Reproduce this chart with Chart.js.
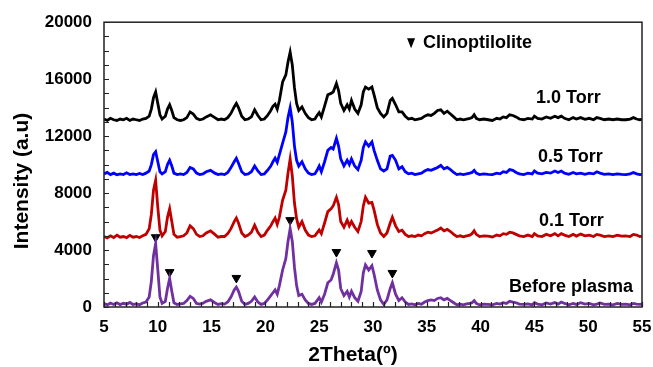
<!DOCTYPE html>
<html>
<head>
<meta charset="utf-8">
<script src="https://cdn.jsdelivr.net/npm/chart.js@4.4.1/dist/chart.umd.min.js"></script>
<style>
  html, body { margin: 0; padding: 0; background: #fff; }
  #wrap { width: 653px; height: 367px; }
</style>
</head>
<body>
<div id="wrap"><canvas id="xrd"></canvas></div>
<script>
// 2Theta grid (degrees), shared by all four patterns
const twoTheta = [
  5.0, 5.3, 5.6, 5.9, 6.2, 6.5, 6.8, 7.1, 7.4, 7.7,
  8.0, 8.3, 8.6, 8.9, 9.2, 9.4, 9.6, 9.8, 10.0, 10.2,
  10.4, 10.7, 10.9, 11.1, 11.3, 11.5, 11.8, 12.1, 12.4, 12.7,
  13.0, 13.3, 13.6, 13.9, 14.2, 14.5, 14.9, 15.3, 15.6, 15.9,
  16.2, 16.5, 16.8, 17.1, 17.3, 17.5, 17.8, 18.1, 18.4, 18.7,
  19.0, 19.3, 19.6, 19.9, 20.2, 20.5, 20.7, 20.9, 21.1, 21.3,
  21.6, 21.9, 22.1, 22.3, 22.5, 22.7, 22.9, 23.1, 23.4, 23.7,
  24.0, 24.3, 24.6, 24.8, 25.0, 25.2, 25.5, 25.8, 26.1, 26.3,
  26.6, 26.8, 27.0, 27.3, 27.6, 27.8, 28.0, 28.3, 28.6, 28.9,
  29.1, 29.3, 29.6, 29.9, 30.1, 30.4, 30.7, 31.0, 31.3, 31.6,
  31.8, 32.1, 32.4, 32.7, 33.0, 33.3, 33.6, 33.9, 34.2, 34.5,
  34.8, 35.1, 35.4, 35.7, 36.0, 36.3, 36.6, 36.9, 37.2, 37.5,
  37.8, 38.1, 38.4, 38.7, 39.0, 39.2, 39.4, 39.6, 39.9, 40.3,
  40.7, 41.1, 41.5, 41.8, 42.1, 42.4, 42.7, 43.0, 43.3, 43.6,
  44.0, 44.4, 44.8, 45.0, 45.3, 45.7, 46.1, 46.5, 46.9, 47.2,
  47.5, 47.8, 48.2, 48.6, 48.9, 49.3, 49.7, 50.1, 50.5, 50.8,
  51.1, 51.5, 51.9, 52.3, 52.7, 53.1, 53.5, 53.9, 54.2, 54.5,
  54.8, 55.0
];

const beforePlasma = [
  250, 150, 280, 180, 300, 170, 260, 200, 320, 180,
  220, 160, 280, 350, 700, 1800, 3600, 4450, 2600, 700,
  250, 400, 1300, 2000, 1100, 300, 180, 220, 250, 450,
  750, 600, 250, 200, 260, 400, 500, 300, 180, 230,
  200, 350, 700, 1200, 1400, 1100, 400, 180, 250, 400,
  700, 350, 180, 250, 500, 800, 1000, 1200, 900, 1500,
  2600, 3400, 4600, 5500, 4600, 2800, 1500, 800, 900, 500,
  250, 180, 250, 450, 650, 350, 900, 1700, 1900, 2300,
  3100, 2600, 1300, 800, 1100, 700, 1100, 650, 400, 1100,
  2400, 2950, 2600, 2900, 2300, 1200, 500, 180, 500, 1300,
  1700, 900, 450, 650, 350, 180, 220, 150, 250, 200,
  350, 450, 500, 450, 600, 650, 500, 600, 450, 300,
  150, 200, 150, 220, 250, 300, 450, 250, 150, 200,
  180, 150, 250, 200, 300, 250, 400, 350, 300, 200,
  180, 220, 150, 300, 200, 150, 280, 200, 320, 200,
  350, 250, 150, 250, 180, 300, 200, 250, 150, 200,
  280, 180, 200, 150, 250, 180, 200, 150, 250, 200,
  180, 200
];

const torr01 = [
  4950, 4850, 5000, 4880, 5050, 4900, 4950, 4870, 5030, 4900,
  4950, 4880, 5000, 5100, 5500, 6500, 8200, 8900, 7000, 5400,
  5000, 5300, 6300, 6900, 6000, 5100, 4900, 4950, 5000, 5200,
  5700, 5500, 5100, 4950, 5000, 5200, 5350, 5100, 4900, 4950,
  4950, 5150, 5500, 6000, 6250, 5900, 5200, 4950, 5050, 5250,
  5750, 5250, 4950, 5050, 5400, 5700, 6000, 6250, 5800, 6300,
  7500, 8200, 9400, 10400, 9200, 7300, 6200, 5600, 6000, 5400,
  5050, 4950, 5000, 5200, 5400, 5150, 5900, 6700, 6900, 7100,
  7700, 7200, 6000, 5600, 6100, 5700, 6000, 5600, 5300, 6000,
  7100, 7700, 7300, 7350, 6800, 5800, 5200, 4950, 5200, 5900,
  6300, 5700, 5300, 5400, 5100, 4950, 5000, 4950, 5050, 5000,
  5150, 5250, 5200, 5300, 5400, 5550, 5350, 5450, 5300, 5100,
  4950, 5000, 4930, 5000, 5050, 5150, 5350, 5100, 4950, 5000,
  4980, 4920, 5050, 5000, 5150, 5100, 5250, 5200, 5100, 5000,
  4950, 5050, 4950, 5150, 5000, 4950, 5100, 5000, 5150, 5000,
  5150, 5050, 4950, 5100, 4980, 5120, 5000, 5050, 4950, 5100,
  5050, 4950, 5000, 4950, 5050, 4980, 5000, 4950, 5100, 5050,
  4950, 4980
];

const torr05 = [
  9350, 9450, 9300, 9400, 9280, 9350, 9300, 9420, 9300, 9350,
  9300, 9380, 9300, 9400, 9550, 10000, 10700, 10900, 10200, 9500,
  9350, 9500, 10000, 10300, 9900, 9400, 9300, 9350, 9300, 9450,
  9800, 9700, 9400, 9300, 9350, 9500, 9600, 9400, 9300, 9350,
  9300, 9450, 9800, 10200, 10450, 10100, 9500, 9300, 9350, 9500,
  9900, 9550, 9300, 9350, 9600, 9900, 10200, 10450, 10150, 10700,
  11500, 12300, 13300, 14000, 13000, 11300, 10300, 9900, 10200, 9700,
  9400, 9300, 9350, 9600, 9900, 9500, 10200, 11000, 11200, 11100,
  11850, 11300, 10400, 9900, 10300, 10000, 10400, 9900, 9650, 10300,
  11200, 11600, 11300, 11600, 11000, 10300, 9700, 9550, 9700, 10600,
  10650, 10300, 9700, 9850, 9500, 9350, 9400, 9300, 9350, 9400,
  9550, 9650, 9600, 9700, 9800, 9950, 9700, 9800, 9650, 9450,
  9300, 9350, 9300, 9350, 9400, 9450, 9600, 9400, 9300, 9350,
  9320, 9300, 9400, 9350, 9500, 9450, 9650, 9600, 9450, 9350,
  9300, 9400, 9350, 9550, 9400, 9350, 9450, 9400, 9550, 9450,
  9550, 9400, 9320, 9450, 9350, 9400, 9320, 9400, 9350, 9500,
  9400, 9320, 9350, 9300, 9350, 9320, 9300, 9350, 9450, 9350,
  9300, 9320
];

const torr10 = [
  13200, 13100, 13250, 13150, 13100, 13200, 13150, 13250, 13100, 13200,
  13150, 13100, 13200, 13250, 13400, 13900, 14700, 15100, 14300, 13500,
  13200, 13400, 13900, 14200, 13800, 13300, 13150, 13100, 13150, 13300,
  13700, 13550, 13250, 13150, 13200, 13350, 13500, 13300, 13150, 13200,
  13150, 13300, 13600, 14050, 14300, 14000, 13400, 13150, 13200, 13350,
  13850, 13450, 13150, 13200, 13450, 13800, 14100, 14250, 13900, 14500,
  15800, 16300, 17200, 17900, 17000, 15400, 14300, 13800, 14050, 13600,
  13300, 13150, 13200, 13450, 13650, 13350, 14100, 14900, 15000, 15100,
  15700, 15200, 14300, 13800, 14200, 13900, 14500, 13900, 13600, 14200,
  15100, 15450, 15300, 15450, 14900, 14000, 13600, 13350, 13600, 14500,
  14650, 14200, 13700, 13700, 13400, 13200, 13250, 13150, 13200, 13250,
  13400, 13500, 13450, 13600, 13800, 13850, 13600, 13750, 13550, 13350,
  13150, 13200, 13150, 13200, 13250, 13300, 13500, 13250, 13150, 13200,
  13150, 13100, 13250, 13200, 13350, 13300, 13500, 13450, 13350, 13200,
  13150, 13250, 13200, 13400, 13250, 13200, 13350, 13250, 13400, 13300,
  13400, 13250, 13150, 13300, 13200, 13300, 13180, 13250, 13150, 13300,
  13250, 13150, 13200, 13150, 13200, 13150, 13150, 13200, 13300, 13200,
  13150, 13180
];

// Clinoptilolite reflections marked with a triangle above the "Before plasma" pattern
const markerTheta = [9.8, 11.1, 17.3, 22.3, 26.6, 29.9, 31.8];
const markerY = [4900, 2450, 2040, 6100, 3860, 3790, 2390];

const seriesNames = ['Before plasma', '0.1 Torr', '0.5 Torr', '1.0 Torr'];

const FONT = "'Liberation Sans', Arial, sans-serif";

function toPoints(ys) {
  return twoTheta.map((t, i) => ({ x: t, y: ys[i] }));
}

// draws the frame, inward ticks, axis titles and the text labels
const decorations = {
  id: 'decorations',
  afterDraw(chart) {
    const ctx = chart.ctx;
    const a = chart.chartArea;
    const xs = chart.scales.x;
    const ys = chart.scales.y;
    ctx.save();

    ctx.strokeStyle = '#222';
    ctx.lineWidth = 1.5;
    ctx.strokeRect(a.left, a.top, a.right - a.left, a.bottom - a.top);

    ctx.lineWidth = 1.2;
    ctx.beginPath();
    for (let v = 0; v <= 20000; v += 1000) {
      const py = Math.round(ys.getPixelForValue(v)) + 0.5;
      ctx.moveTo(a.left, py);
      ctx.lineTo(a.left + 5, py);
    }
    for (let t = 5; t <= 55; t += 1) {
      const px = Math.round(xs.getPixelForValue(t)) + 0.5;
      ctx.moveTo(px, a.bottom);
      ctx.lineTo(px, a.bottom - 5);
    }
    ctx.stroke();

    ctx.fillStyle = '#000';
    ctx.font = 'bold 18px ' + FONT;
    ctx.textBaseline = 'middle';
    ctx.textAlign = 'left';
    ctx.fillText(seriesNames[3], xs.getPixelForValue(45.15), ys.getPixelForValue(14670));
    ctx.fillText(seriesNames[2], xs.getPixelForValue(45.33), ys.getPixelForValue(10530));
    ctx.fillText(seriesNames[1], xs.getPixelForValue(45.43), ys.getPixelForValue(6040));
    ctx.fillText(seriesNames[0], xs.getPixelForValue(42.64), ys.getPixelForValue(1400));

    // legend: triangle + Clinoptilolite
    const lx = xs.getPixelForValue(33.54);
    const ly = ys.getPixelForValue(18530);
    ctx.beginPath();
    ctx.moveTo(lx - 4, ly - 5);
    ctx.lineTo(lx + 4, ly - 5);
    ctx.lineTo(lx, ly + 5);
    ctx.closePath();
    ctx.fill();
    ctx.fillText('Clinoptilolite', xs.getPixelForValue(34.65), ly);

    // axis titles
    ctx.font = 'bold 21px ' + FONT;
    ctx.textAlign = 'center';
    ctx.fillText('2Theta(º)', a.left + 249, 355);
    ctx.translate(22, 181);
    ctx.rotate(-Math.PI / 2);
    ctx.fillText('Intensity (a.u)', 0, 0);
    ctx.restore();
  }
};

new Chart(document.getElementById('xrd'), {
  type: 'line',
  data: {
    datasets: [
      {
        label: seriesNames[0],
        data: toPoints(beforePlasma),
        borderColor: '#7030A0',
        borderWidth: 2.8,
        pointRadius: 0,
        tension: 0
      },
      {
        label: seriesNames[1],
        data: toPoints(torr01),
        borderColor: '#C00000',
        borderWidth: 2.8,
        pointRadius: 0,
        tension: 0
      },
      {
        label: seriesNames[2],
        data: toPoints(torr05),
        borderColor: '#0000FF',
        borderWidth: 2.8,
        pointRadius: 0,
        tension: 0
      },
      {
        label: seriesNames[3],
        data: toPoints(torr10),
        borderColor: '#000000',
        borderWidth: 2.8,
        pointRadius: 0,
        tension: 0
      },
      {
        label: 'Clinoptilolite',
        type: 'scatter',
        data: markerTheta.map((t, i) => ({ x: t, y: markerY[i] })),
        pointStyle: 'triangle',
        rotation: 180,
        pointRadius: 5,
        backgroundColor: '#000',
        borderColor: '#000',
        borderWidth: 1,
        showLine: false
      }
    ]
  },
  options: {
    responsive: true,
    maintainAspectRatio: false,
    animation: false,
    devicePixelRatio: 1,
    layout: { padding: { top: 22, right: 11, left: 0, bottom: 0 } },
    plugins: {
      legend: { display: false },
      tooltip: { enabled: false }
    },
    scales: {
      x: {
        type: 'linear',
        min: 5,
        max: 55,
        ticks: {
          stepSize: 5,
          color: '#000',
          padding: 10,
          font: { family: FONT, size: 17, weight: 'bold' },
          callback: (v) => String(v)
        },
        grid: { display: false, drawTicks: false },
        border: { display: false },
        afterFit(scale) {
          scale.height = 60;
          scale.paddingLeft = 0;
          scale.paddingRight = 0;
        }
      },
      y: {
        min: 0,
        max: 20000,
        ticks: {
          stepSize: 4000,
          color: '#000',
          padding: 12,
          font: { family: FONT, size: 17, weight: 'bold' },
          callback: (v) => String(v)
        },
        grid: { display: false, drawTicks: false },
        border: { display: false },
        afterFit(scale) { scale.width = 104; }
      }
    }
  },
  plugins: [decorations]
});
</script>
</body>
</html>
